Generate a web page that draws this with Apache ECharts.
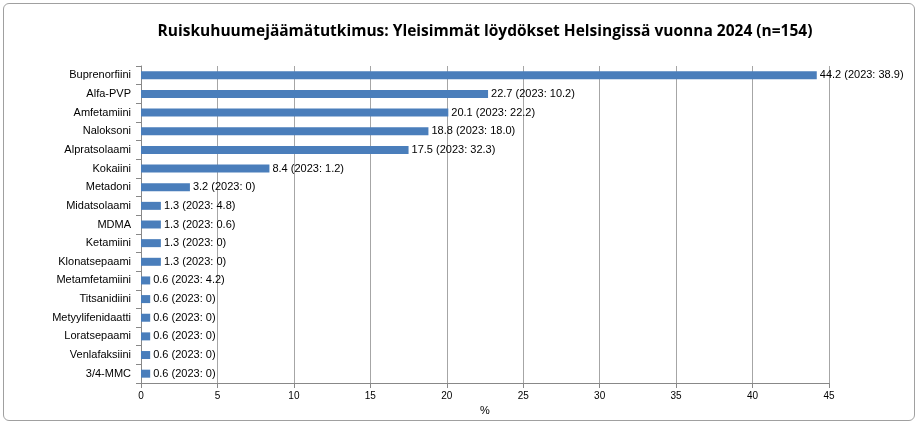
<!DOCTYPE html>
<html><head><meta charset="utf-8">
<script src="https://cdn.jsdelivr.net/npm/echarts@6/dist/echarts.min.js"></script>
<style>html,body{margin:0;padding:0;background:#fff}#c{width:920px;height:425px}
#f{position:absolute;left:3px;top:3px;width:910px;height:416px;border:1px solid #a0a0a0;border-radius:6px;pointer-events:none}</style>
</head><body><div id="c"></div><div id="f"></div>
<script>
const categories = ["Buprenorfiini","Alfa-PVP","Amfetamiini","Naloksoni","Alpratsolaami","Kokaiini","Metadoni","Midatsolaami","MDMA","Ketamiini","Klonatsepaami","Metamfetamiini","Titsanidiini","Metyylifenidaatti","Loratsepaami","Venlafaksiini","3/4-MMC"];
const values2024 = [44.2,22.7,20.1,18.8,17.5,8.4,3.2,1.3,1.3,1.3,1.3,0.6,0.6,0.6,0.6,0.6,0.6];
const values2023 = ["38.9","10.2","22.2","18.0","32.3","1.2","0","4.8","0.6","0","0","4.2","0","0","0","0","0"];
const xTicks = [0,5,10,15,20,25,30,35,40,45];
const chart = echarts.init(document.getElementById('c'));
const F = "'Liberation Sans', Arial, sans-serif";
chart.setOption({
  animation:false,
  title:{text:'Ruiskuhuumejäämätutkimus: Yleisimmät löydökset Helsingissä vuonna 2024 (n=154)',left:480,top:19,textAlign:'center',
    textStyle:{fontFamily:"'Open Sans', sans-serif",fontWeight:'bold',fontSize:15.5,color:'#000'}},
  grid:{left:141,right:91,top:66,bottom:42},
  xAxis:{type:'value',min:0,max:45,interval:5,name:'%',nameLocation:'middle',nameGap:22,
    nameTextStyle:{fontFamily:F,fontSize:11,color:'#000'},
    axisLabel:{fontFamily:F,fontSize:10,color:'#000',formatter:v=>xTicks.includes(v)?String(v):''},
    axisLine:{show:true,lineStyle:{color:'#888'}},axisTick:{show:true,lineStyle:{color:'#888'}},
    splitLine:{lineStyle:{color:'#a6a6a6'}}},
  yAxis:{type:'category',inverse:true,data:categories,
    axisLabel:{fontFamily:F,fontSize:11,color:'#000',margin:10},
    axisLine:{lineStyle:{color:'#888'}},axisTick:{show:true,alignWithLabel:false,lineStyle:{color:'#888'}}},
  series:[{type:'bar',data:values2024,barWidth:8,itemStyle:{color:'#4a7ebb'},
    label:{show:true,position:'right',distance:3,fontFamily:F,fontSize:11,color:'#000',
      formatter:p=>p.value+' (2023: '+values2023[p.dataIndex]+')'}}]
});
</script></body></html>
